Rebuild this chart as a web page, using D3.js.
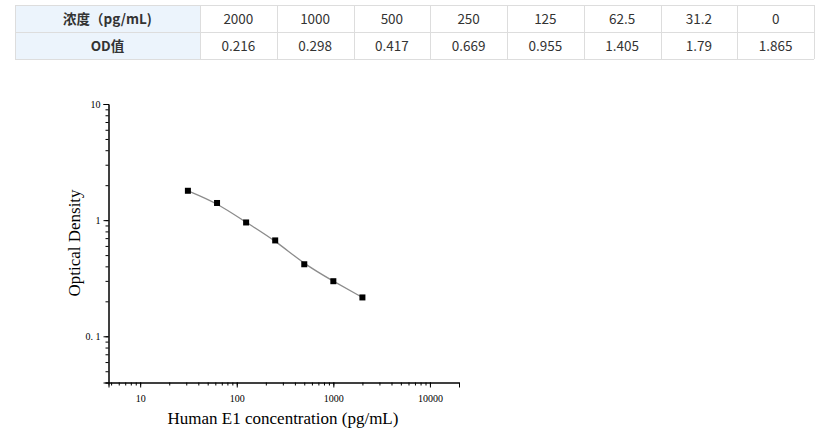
<!DOCTYPE html>
<html><head><meta charset="utf-8">
<script src="https://cdn.jsdelivr.net/npm/d3@7"></script>
<style>body{margin:0;background:#fff;}svg{display:block;}</style>
</head><body>
<svg id="c" width="826" height="443"></svg>
<script>
const rowHeaders = ["浓度（pg/mL)", "OD值"];
const concLabels = ["2000","1000","500","250","125","62.5","31.2","0"];
const odLabels = ["0.216","0.298","0.417","0.669","0.955","1.405","1.79","1.865"];
const concValues = [2000,1000,500,250,125,62.5,31.2];
const odValues = [0.216,0.298,0.417,0.669,0.955,1.405,1.79];
const xMajorTicks = [10,100,1000,10000];
const yMajorTicks = [0.1,1,10];
const yTickLabels = {0.1:"0. 1", 1:"1", 10:"10"};
const xTitle = "Human E1 concentration (pg/mL)";
const yTitle = "Optical Density";

const svg = d3.select("#c");

// ---- table ----
const tX0 = 15, tY0 = 5, rowH = 27, firstW = 185, colW = 76.75;
const tbl = svg.append("g");
const rows = [concLabels, odLabels];
rows.forEach((r, ri) => {
  const y = tY0 + ri*rowH;
  tbl.append("rect").attr("x", tX0).attr("y", y).attr("width", firstW).attr("height", rowH)
    .attr("fill", "#ecf4fc");
  tbl.append("text").attr("x", tX0 + firstW/2).attr("y", y + rowH/2 + 5)
    .attr("text-anchor","middle").attr("font-family","'Noto Sans CJK SC'")
    .attr("font-weight","bold").attr("font-size",13.5).attr("fill","#333").text(rowHeaders[ri]);
  r.forEach((v, ci) => {
    const x = tX0 + firstW + ci*colW;
    tbl.append("text").attr("x", x + colW/2).attr("y", y + rowH/2 + 5)
      .attr("text-anchor","middle").attr("font-family","'Noto Sans CJK SC'")
      .attr("font-size",13.5).attr("fill","#333").text(v);
  });
});
const tW = firstW + colW*8;
for (let i=0;i<=2;i++) tbl.append("line").attr("x1",tX0).attr("x2",tX0+tW)
  .attr("y1",tY0+i*rowH+0.5).attr("y2",tY0+i*rowH+0.5).attr("stroke","#ddd");
const vx = [tX0, tX0+firstW]; for (let i=1;i<=8;i++) vx.push(tX0+firstW+i*colW);
vx.forEach(x => tbl.append("line").attr("x1",Math.round(x)+0.5).attr("x2",Math.round(x)+0.5)
  .attr("y1",tY0).attr("y2",tY0+2*rowH).attr("stroke","#ddd"));

// ---- chart ----
const x = d3.scaleLog().domain([4.7, 20000]).range([108.5, 459]);
const y = d3.scaleLog().domain([0.04, 10]).range([382.5, 104]);

function minors(dom){
  const out=[]; for (let e=-3;e<=5;e++) for (let m=1;m<=9;m++){const v=m*Math.pow(10,e); if(v>=dom[0]&&v<=dom[1]) out.push(+v.toPrecision(3));}
  return out;
}
const serif = "'Liberation Serif','Times New Roman',serif";

const gx = svg.append("g").attr("transform","translate(0,382.5)");
gx.call(d3.axisBottom(x).tickValues(minors(x.domain())).tickSize(3).tickFormat(""));
gx.append("g").call(d3.axisBottom(x).tickValues(xMajorTicks).tickSize(5).tickFormat(d=>String(d)));
gx.selectAll("path.domain").attr("stroke","#000");
gx.selectAll("line").attr("stroke","#000");
gx.selectAll("text").attr("font-family",serif).attr("font-size",10).attr("fill","#000").attr("dy","1.1em");

const gy = svg.append("g").attr("transform","translate(108.5,0)");
gy.call(d3.axisLeft(y).tickValues(minors(y.domain())).tickSize(3).tickFormat(""));
gy.append("g").call(d3.axisLeft(y).tickValues(yMajorTicks).tickSize(5).tickFormat(d=>yTickLabels[d]));
gy.selectAll("path.domain").attr("stroke","#000");
gy.selectAll("line").attr("stroke","#000");
gy.selectAll("text").attr("font-family",serif).attr("font-size",10).attr("fill","#000");

svg.append("text").attr("x",283).attr("y",424).attr("text-anchor","middle")
  .attr("font-family",serif).attr("font-size",17).attr("fill","#000").text(xTitle);
svg.append("text").attr("transform","translate(80,243) rotate(-90)").attr("text-anchor","middle")
  .attr("font-family",serif).attr("font-size",17).attr("fill","#000").text(yTitle);

const pts = concValues.map((c,i)=>[c, odValues[i]]).sort((a,b)=>a[0]-b[0]);
const line = d3.line().x(d=>x(d[0])).y(d=>y(d[1])).curve(d3.curveBasis);
svg.append("path").attr("d", line(pts)).attr("fill","none").attr("stroke","#8c8c8c").attr("stroke-width",1.3);
svg.selectAll("rect.pt").data(pts).enter().append("rect").attr("class","pt")
  .attr("x",d=>x(d[0])-3).attr("y",d=>y(d[1])-3).attr("width",6).attr("height",6).attr("fill","#000");
</script>
</body></html>
